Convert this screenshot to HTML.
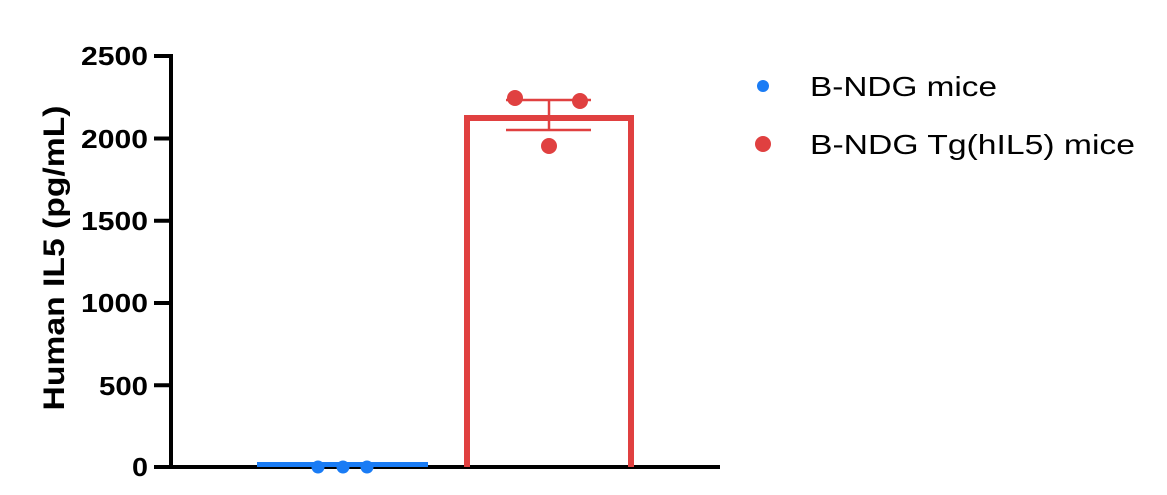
<!DOCTYPE html>
<html><head><style>body{margin:0;background:#fff}svg{display:block}</style></head><body>
<svg width="1167" height="495" viewBox="0 0 1167 495" xmlns="http://www.w3.org/2000/svg" font-family="Liberation Sans, Arial, sans-serif">
<g stroke="#000" stroke-width="4">
<line x1="171" y1="54" x2="171" y2="469"/>
<line x1="169" y1="467" x2="720" y2="467"/>
<line x1="154" y1="56" x2="171" y2="56"/>
<line x1="154" y1="138.5" x2="171" y2="138.5"/>
<line x1="154" y1="220.8" x2="171" y2="220.8"/>
<line x1="154" y1="303" x2="171" y2="303"/>
<line x1="154" y1="385.3" x2="171" y2="385.3"/>
<line x1="154" y1="467" x2="171" y2="467"/>
</g>
<g font-size="26" font-weight="bold" text-anchor="end" fill="#000" lengthAdjust="spacingAndGlyphs">
<text x="148" y="65" textLength="67" lengthAdjust="spacingAndGlyphs">2500</text>
<text x="148" y="148" textLength="67" lengthAdjust="spacingAndGlyphs">2000</text>
<text x="148" y="230" textLength="67" lengthAdjust="spacingAndGlyphs">1500</text>
<text x="148" y="312" textLength="67" lengthAdjust="spacingAndGlyphs">1000</text>
<text x="148" y="395" textLength="49" lengthAdjust="spacingAndGlyphs">500</text>
<text x="148" y="476" textLength="16" lengthAdjust="spacingAndGlyphs">0</text>
</g>
<text transform="translate(64,258) rotate(-90)" font-size="30" font-weight="bold" text-anchor="middle" textLength="305" lengthAdjust="spacingAndGlyphs">Human IL5 (pg/mL)</text>
<rect x="257" y="462" width="171" height="5" fill="#1a7cf5"/>
<g fill="#1a7cf5"><circle cx="318" cy="467" r="6.5"/><circle cx="343" cy="467" r="6.5"/><circle cx="367" cy="467" r="6.5"/></g>
<path d="M467 467 V118 H631 V467" fill="none" stroke="#e04040" stroke-width="6"/>
<g stroke="#e04040" stroke-width="2.5">
<line x1="549" y1="100" x2="549" y2="130"/>
<line x1="506" y1="100" x2="591" y2="100"/>
<line x1="506" y1="130" x2="591" y2="130"/>
</g>
<g fill="#e04040"><circle cx="515" cy="98" r="8"/><circle cx="580" cy="101" r="8"/><circle cx="549" cy="146" r="8"/></g>
<circle cx="763" cy="86" r="6" fill="#1a7cf5"/>
<circle cx="763" cy="144" r="8" fill="#e04040"/>
<g font-size="28" fill="#000">
<text x="810" y="96" textLength="187" lengthAdjust="spacingAndGlyphs">B-NDG mice</text>
<text x="810" y="154" textLength="325" lengthAdjust="spacingAndGlyphs">B-NDG Tg(hIL5) mice</text>
</g>
</svg>
</body></html>
